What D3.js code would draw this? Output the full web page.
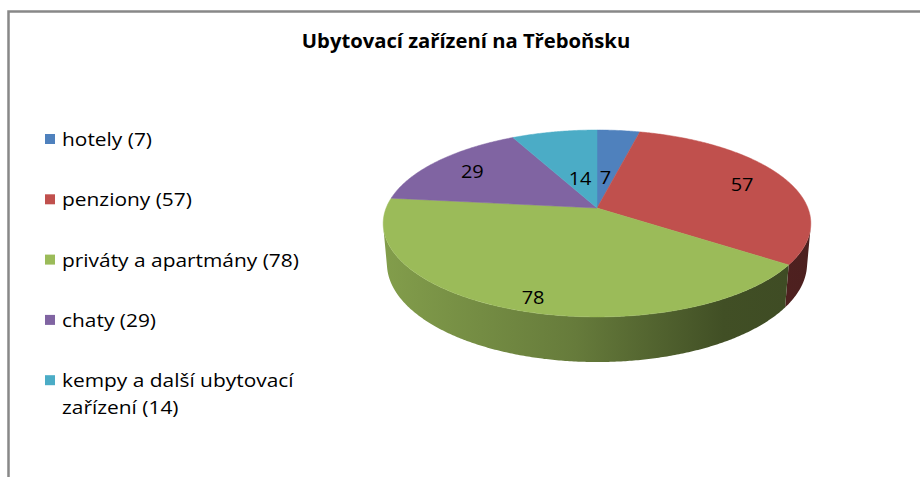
<!DOCTYPE html>
<meta charset="utf-8">
<script src="https://d3js.org/d3.v7.min.js"></script>
<style>
  body { margin: 0; background: #fff; }
  text { font-family: "Open Sans", "Noto Sans", sans-serif; }
</style>
<div id="chart"></div>
<script>
// data
const categories = ["hotely", "penziony", "priváty a apartmány", "chaty", "kempy a další ubytovací zařízení"];
const values = [7, 57, 78, 29, 14];
const colors = ["#4F81BD", "#C0504D", "#9BBB59", "#8064A2", "#4BACC6"];
const title = "Ubytovací zařízení na Třeboňsku";

const W = 920, H = 477;

const svg = d3.select("#chart").append("svg")
    .attr("width", W)
    .attr("height", H);

// frame (only top and left edges are visible in the crop)
svg.append("path")
    .attr("d", "M8.5," + H + "V11.5H" + W)
    .attr("fill", "none")
    .attr("stroke", "#888")
    .attr("stroke-width", 2.5);

svg.append("text")
    .attr("transform", "translate(466,48) scale(1.065,1)")
    .attr("text-anchor", "middle")
    .style("font-weight", "bold")
    .style("font-size", "19px")
    .attr("fill", "#000")
    .text(title);

// 3d pie: perspective projection of a tilted cylinder
const cx = 597, cy = 208;
const fx = 1145, fy = 1127;
const D = 5.43, sa = 0.438, ca = 0.899, depth = 0.216;

function proj(theta, r, t) {
    const X = r * Math.sin(theta), Z = -r * Math.cos(theta), Y = -t;
    const w = D - (Y * sa + Z * ca);
    return [cx + fx * X / w, cy + fy * (Z * sa - Y * ca) / w];
}

const arcs = d3.pie().sort(null).value(d => d)(values);
const line = d3.line();
const step = Math.PI / 360;

function samples(a0, a1) {
    const n = Math.max(2, Math.ceil((a1 - a0) / step));
    return d3.range(n + 1).map(i => a0 + (a1 - a0) * i / n);
}

// visible part of the outer wall
const lim = Math.acos(-1 / (D * ca));
const defs = svg.append("defs");
const xl = proj(-Math.PI / 2, 1, 0)[0], xr = proj(Math.PI / 2, 1, 0)[0];

const side = svg.append("g");
arcs.forEach((a, i) => {
    const a0 = Math.max(a.startAngle, lim), a1 = Math.min(a.endAngle, 2 * Math.PI - lim);
    if (a1 <= a0) return;
    const c = d3.rgb(colors[i]);
    const dark = f => d3.rgb(c.r * f, c.g * f, c.b * f);
    const g = defs.append("linearGradient")
        .attr("id", "side" + i)
        .attr("gradientUnits", "userSpaceOnUse")
        .attr("x1", xl).attr("x2", xr).attr("y1", 0).attr("y2", 0);
    g.append("stop").attr("offset", 0).attr("stop-color", dark(0.84));
    g.append("stop").attr("offset", 0.45).attr("stop-color", dark(0.66));
    g.append("stop").attr("offset", 0.8).attr("stop-color", dark(0.42));
    g.append("stop").attr("offset", 1).attr("stop-color", dark(0.4));
    const th = samples(a0, a1);
    const pts = th.map(t => proj(t, 1, 0)).concat(th.slice().reverse().map(t => proj(t, 1, depth)));
    side.append("path")
        .attr("d", line(pts) + "Z")
        .attr("fill", "url(#side" + i + ")");
});

// top face
svg.append("g").selectAll("path")
    .data(arcs)
    .join("path")
    .attr("d", d => line([proj(0, 0, 0)].concat(samples(d.startAngle, d.endAngle).map(t => proj(t, 1, 0)))) + "Z")
    .attr("fill", (d, i) => colors[i])
    .attr("stroke", (d, i) => colors[i])
    .attr("stroke-width", 0.5);

// data labels
svg.append("g").selectAll("text")
    .data(arcs)
    .join("text")
    .attr("transform", d => {
        const m = (d.startAngle + d.endAngle) / 2;
        const small = (d.endAngle - d.startAngle) < 0.6;
        const front = Math.max(0, -Math.cos(m));
        const p = proj(m, small ? 0.36 : 0.77, depth * 0.35 * front);
        return "translate(" + p + ") scale(1.05,1)";
    })
    .attr("text-anchor", "middle")
    .attr("dy", "0.36em")
    .style("font-size", "19px")
    .attr("fill", "#000")
    .text(d => d.data);

// legend
const legend = svg.append("g");
categories.forEach((c, i) => {
    const y = 146 + i * 60.3;
    legend.append("rect")
        .attr("x", 45).attr("y", y - 12)
        .attr("width", 10).attr("height", 10)
        .attr("fill", colors[i]);
    const txt = legend.append("text")
        .attr("transform", "translate(62," + y + ") scale(1.1,1)")
        .style("font-size", "19px")
        .attr("fill", "#000");
    // simple word wrap
    const words = (c + " (" + values[i] + ")").split(" ");
    let cur = [], lineNo = 0;
    let ts = txt.append("tspan").attr("x", 0).attr("y", 0);
    words.forEach(wd => {
        cur.push(wd);
        ts.text(cur.join(" "));
        if (ts.node().getComputedTextLength() > 225 && cur.length > 1) {
            cur.pop();
            ts.text(cur.join(" "));
            cur = [wd];
            lineNo++;
            ts = txt.append("tspan").attr("x", 0).attr("y", lineNo * 26.5).text(wd);
        }
    });
});
</script>
